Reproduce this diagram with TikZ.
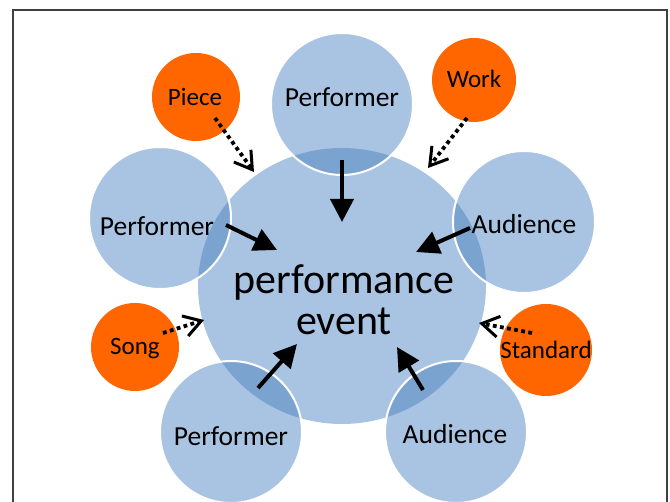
\documentclass[tikz,border=0pt]{standalone}
\usepackage{fontspec}
\setmainfont{Carlito}
\usetikzlibrary{arrows.meta}
\definecolor{paleblue}{RGB}{169,196,226}
\definecolor{deepblue}{RGB}{123,163,208}
\definecolor{tangerine}{RGB}{255,102,0}

\begin{document}
\begin{tikzpicture}[x=1pt,y=-1pt,
	lbl/.style={font=\fontsize{27.5}{30}\selectfont,inner sep=0pt},
	slbl/.style={font=\fontsize{25}{28}\selectfont,inner sep=0pt},
	solidarrow/.style={line width=4pt,-{Triangle[length=23pt,width=23pt]}},
	dotarrow/.style={line width=3.8pt,dash pattern=on 3.8pt off 3.4pt,-{Straight Barb[length=17pt,width=21pt,line width=3pt]}}]
	\useasboundingbox (0,0) rectangle (670,502);
	\draw[line width=1.2pt,black!75] (13,502)--(13,10)--(667,10)--(667,502);
	\coordinate (cE) at (342,286);
	\coordinate (cT) at (342,104);
	\coordinate (cL) at (160,218);
	\coordinate (cR) at (524,222);
	\coordinate (cBL) at (231,432);
	\coordinate (cBR) at (456,432);
	\fill[paleblue] (cE) ellipse [x radius=144,y radius=138];
	\foreach \c in {cT,cL,cR,cBL,cBR}
		\fill[paleblue] (\c) circle (71);
	\begin{scope}
		\clip (cE) ellipse [x radius=144,y radius=138];
		\foreach \c in {cT,cL,cR,cBL,cBR}
			\fill[deepblue] (\c) circle (71);
	\end{scope}
	\foreach \c in {cT,cL,cR,cBL,cBR}
		\draw[white,line width=2pt] (\c) circle (71);
	\fill[tangerine] (196,97) circle (44);
	\fill[tangerine] (474,80) circle (42);
	\fill[tangerine] (135,347) circle (44);
	\fill[tangerine] (546,350) circle (46);
	\node[lbl] (perfT) at (342,97) {Performer};
	\node[lbl] (perfL) at (157,226) {Performer};
	\node[lbl] (audR) at (524,224) {Audience};
	\node[lbl] (perfB) at (231,436) {Performer};
	\node[lbl] (audB) at (455,434) {Audience};
	\node[slbl] (piece) at (195,97) {Piece};
	\node[slbl] (work) at (474,79) {Work};
	\node[slbl] (song) at (135,349) {Song};
	\node[slbl] (standard) at (546,350) {Standard};
	\node[font=\fontsize{42}{41}\selectfont,align=center,inner sep=0pt] (event) at (344,300) {performance\\event};
	\coordinate (aT) at (342,160);
	\coordinate (bT) at (342,222);
	\coordinate (aL) at (226,225);
	\coordinate (bL) at (277,250);
	\coordinate (aR) at (470,228);
	\coordinate (bR) at (416,252);
	\coordinate (aBL) at (258,388);
	\coordinate (bBL) at (297,344);
	\coordinate (aBR) at (423,390);
	\coordinate (bBR) at (397,347);
	\draw[solidarrow] (aT)--(bT);
	\draw[solidarrow] (aL)--(bL);
	\draw[solidarrow] (aR)--(bR);
	\draw[solidarrow] (aBL)--(bBL);
	\draw[solidarrow] (aBR)--(bBR);
	\coordinate (aPiece) at (215,118);
	\coordinate (bPiece) at (254,172);
	\coordinate (aWork) at (467,118);
	\coordinate (bWork) at (428,168);
	\coordinate (aSong) at (163,333);
	\coordinate (bSong) at (204,320);
	\coordinate (aStd) at (532,333);
	\coordinate (bStd) at (479,323);
	\draw[dotarrow] (aPiece)--(bPiece);
	\draw[dotarrow] (aWork)--(bWork);
	\draw[dotarrow] (aSong)--(bSong);
	\draw[dotarrow] (aStd)--(bStd);
\end{tikzpicture}
\end{document}
